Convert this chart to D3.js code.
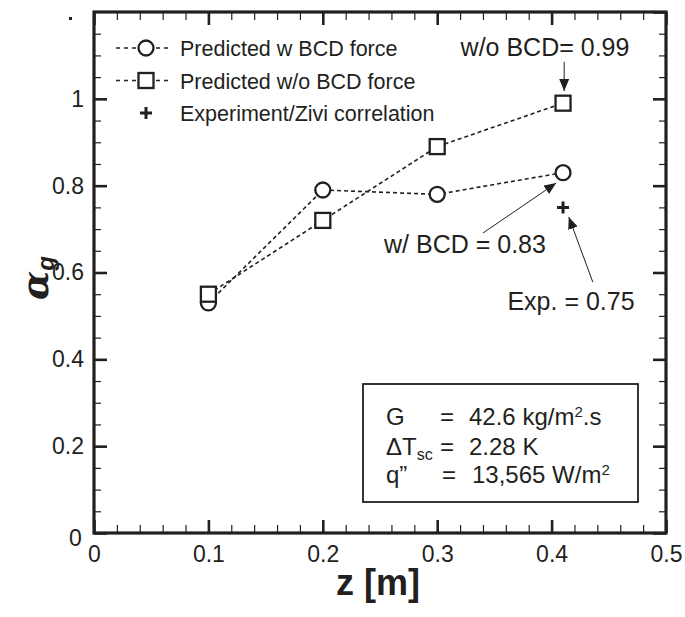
<!DOCTYPE html>
<html><head><meta charset="utf-8">
<script src="https://cdn.jsdelivr.net/npm/d3@7"></script>
<style>body{margin:0;background:#fff}svg{display:block}text{font-family:"Liberation Sans",Arial,sans-serif;fill:#231f20}</style>
</head><body><svg id="c" width="685" height="617"></svg>
<script>
// ---- data ----
const zPositions = [0.1, 0.2, 0.3, 0.41];
const withBCD = [0.53, 0.79, 0.78, 0.83];
const withoutBCD = [0.55, 0.72, 0.89, 0.99];
const expZ = [0.41];
const expAlpha = [0.75];
const xTicks = [0, 0.1, 0.2, 0.3, 0.4, 0.5];
const xTickLabels = ["0", "0.1", "0.2", "0.3", "0.4", "0.5"];
const yTicks = [0, 0.2, 0.4, 0.6, 0.8, 1];
const yTickLabels = ["0", "0.2", "0.4", "0.6", "0.8", "1"];
const legendLabels = ["Predicted w BCD force", "Predicted w/o BCD force", "Experiment/Zivi correlation"];

const ink = "#231f20";
const svg = d3.select("#c");
const L = 94, T = 12, R = 666, B = 533;
const x = d3.scaleLinear().domain([0, 0.5]).range([L, R]);
const y = d3.scaleLinear().domain([0, 1.2]).range([B, T]);

const xMinor = d3.range(0, 0.5001, 0.02).filter(v => Math.abs(v*10 - Math.round(v*10)) > 1e-6);
const yMinor = d3.range(0, 1.2001, 0.05).filter(v => Math.abs(v*5 - Math.round(v*5)) > 1e-6);
const yMajorAll = [0, 0.2, 0.4, 0.6, 0.8, 1, 1.2];

function styleAxis(g, w) {
  g.select(".domain").remove();
  g.selectAll(".tick line").attr("stroke", ink).attr("stroke-width", w);
}
// bottom
svg.append("g").attr("transform", `translate(0,${B})`)
  .call(d3.axisBottom(x).tickValues(xMinor).tickSize(-8).tickFormat(""))
  .call(g => styleAxis(g, 1.2));
const gxb = svg.append("g").attr("transform", `translate(0,${B})`)
  .call(d3.axisBottom(x).tickValues(xTicks).tickSize(-13).tickPadding(13).tickFormat((d, i) => xTickLabels[i]))
  .call(g => styleAxis(g, 2.6));
gxb.selectAll(".tick text").attr("font-size", 23).attr("fill", ink).attr("font-family", "Liberation Sans, Arial");
// top
svg.append("g").attr("transform", `translate(0,${T})`)
  .call(d3.axisTop(x).tickValues(xMinor).tickSize(-8).tickFormat(""))
  .call(g => styleAxis(g, 1.2));
svg.append("g").attr("transform", `translate(0,${T})`)
  .call(d3.axisTop(x).tickValues(xTicks).tickSize(-13).tickFormat(""))
  .call(g => styleAxis(g, 2.6));
// left
svg.append("g").attr("transform", `translate(${L},0)`)
  .call(d3.axisLeft(y).tickValues(yMinor).tickSize(-7).tickFormat(""))
  .call(g => styleAxis(g, 1.2));
const gyl = svg.append("g").attr("transform", `translate(${L},0)`)
  .call(d3.axisLeft(y).tickValues(yTicks).tickSize(-13).tickPadding(10).tickFormat((d, i) => yTickLabels[i]))
  .call(g => styleAxis(g, 2.6));
gyl.selectAll(".tick text").attr("font-size", 23).attr("fill", ink).attr("font-family", "Liberation Sans, Arial");
gyl.selectAll(".tick text").filter((d,i)=>i===0).attr("dy", "0.55em").attr("dx", "-0.1em");
// right
svg.append("g").attr("transform", `translate(${R},0)`)
  .call(d3.axisRight(y).tickValues(yMinor).tickSize(-7).tickFormat(""))
  .call(g => styleAxis(g, 1.2));
svg.append("g").attr("transform", `translate(${R},0)`)
  .call(d3.axisRight(y).tickValues(yMajorAll).tickSize(-13).tickFormat(""))
  .call(g => styleAxis(g, 2.6));
// frame
svg.append("rect").attr("x", L).attr("y", T).attr("width", R - L).attr("height", B - T)
  .attr("fill", "none").attr("stroke", ink).attr("stroke-width", 3.2);
// stray dot
svg.append("rect").attr("x", 69).attr("y", 17).attr("width", 3).attr("height", 3).attr("fill", ink);

// axis titles
svg.append("text").attr("x", 378).attr("y", 595).attr("text-anchor", "middle")
  .attr("font-size", 36).attr("font-weight", "bold").text("z [m]");
const yl = svg.append("text").attr("transform", "translate(48,278) rotate(-90)").attr("text-anchor", "middle")
  .attr("font-size", 38).attr("font-weight", "bold").attr("font-style", "italic");
yl.append("tspan").attr("font-family", "DejaVu Serif").text("α");
yl.append("tspan").attr("font-size", 24).attr("dy", 6).text("g");

// lines
const line = d3.line().x(d => x(d[0])).y(d => y(d[1]));
[withBCD, withoutBCD].forEach(s => {
  svg.append("path").datum(zPositions.map((z, i) => [z, s[i]])).attr("d", line)
    .attr("fill", "none").attr("stroke", ink).attr("stroke-width", 1.6).attr("stroke-dasharray", "4,3");
});
// markers
svg.selectAll(".circ").data(zPositions).enter().append("circle")
  .attr("cx", d => x(d)).attr("cy", (d, i) => y(withBCD[i])).attr("r", 7.5)
  .attr("fill", "#fff").attr("stroke", ink).attr("stroke-width", 2.3);
svg.selectAll(".sq").data(zPositions).enter().append("rect")
  .attr("x", d => x(d) - 7.5).attr("y", (d, i) => y(withoutBCD[i]) - 7.5).attr("width", 15).attr("height", 15)
  .attr("fill", "#fff").attr("stroke", ink).attr("stroke-width", 2.3);
function plus(g, cx, cy) {
  g.append("path").attr("d", `M${cx-6},${cy}H${cx+6}M${cx},${cy-6}V${cy+6}`)
    .attr("stroke", ink).attr("stroke-width", 3);
}
expZ.forEach((z, i) => plus(svg, x(z), y(expAlpha[i])));

// legend
const lg = svg.append("g");
legendLabels.forEach((t, i) => {
  const cy = 48 + i * 32.5;
  if (i < 2) {
    lg.append("line").attr("x1", 116).attr("x2", 168).attr("y1", cy).attr("y2", cy)
      .attr("stroke", ink).attr("stroke-width", 1.6).attr("stroke-dasharray", "4,4");
    if (i === 0) lg.append("circle").attr("cx", 146).attr("cy", cy).attr("r", 7.5).attr("fill", "#fff").attr("stroke", ink).attr("stroke-width", 2.3);
    else lg.append("rect").attr("x", 138.5).attr("y", cy - 7.5).attr("width", 15).attr("height", 15).attr("fill", "#fff").attr("stroke", ink).attr("stroke-width", 2.3);
  } else plus(lg, 146, cy);
  lg.append("text").attr("x", 180).attr("y", cy + 8).attr("font-size", 21.5).text(t);
});

// annotations
svg.append("defs").append("marker").attr("id", "ah").attr("viewBox", "0 0 12 10")
  .attr("refX", 12).attr("refY", 5).attr("markerWidth", 12).attr("markerHeight", 10)
  .attr("markerUnits", "userSpaceOnUse").attr("orient", "auto")
  .append("path").attr("d", "M0,0L12,5L0,10Z").attr("fill", ink);
const ann = [
  {t: "w/o BCD= 0.99", tx: 545, ty: 56, x1: 0.411, y1: 1.085, x2: 0.411, y2: 1.018},
  {t: "w/ BCD = 0.83", tx: 465, ty: 253, x1: 0.340, y1: 0.691, x2: 0.404, y2: 0.806},
  {t: "Exp. = 0.75", tx: 571, ty: 310, x1: 0.436, y1: 0.578, x2: 0.415, y2: 0.728}
];
ann.forEach(a => {
  svg.append("text").attr("x", a.tx).attr("y", a.ty).attr("text-anchor", "middle").attr("font-size", 25).text(a.t);
  svg.append("line").attr("x1", x(a.x1)).attr("y1", y(a.y1)).attr("x2", x(a.x2)).attr("y2", y(a.y2))
    .attr("stroke", ink).attr("stroke-width", 1).attr("marker-end", "url(#ah)");
});

// info box
svg.append("rect").attr("x", 363).attr("y", 384).attr("width", 275).attr("height", 118)
  .attr("fill", "#fff").attr("stroke", ink).attr("stroke-width", 1.8);
const fs = 24;
svg.append("text").attr("x", 386).attr("y", 425).attr("font-size", fs).text("G");
svg.append("text").attr("x", 440).attr("y", 425).attr("font-size", fs).text("=");
const t1 = svg.append("text").attr("x", 469).attr("y", 425).attr("font-size", fs).text("42.6 kg/m");
t1.append("tspan").attr("font-size", 15).attr("dy", -8).text("2");
t1.append("tspan").attr("dy", 8).text(".s");
const t2 = svg.append("text").attr("x", 386).attr("y", 455).attr("font-size", fs).text("ΔT");
t2.append("tspan").attr("font-size", 16).attr("dy", 5).text("sc");
svg.append("text").attr("x", 440).attr("y", 455).attr("font-size", fs).text("=");
svg.append("text").attr("x", 469).attr("y", 455).attr("font-size", fs).text("2.28 K");
svg.append("text").attr("x", 386).attr("y", 483).attr("font-size", fs).text("q”");
svg.append("text").attr("x", 442).attr("y", 483).attr("font-size", fs).text("=");
const t3 = svg.append("text").attr("x", 472).attr("y", 483).attr("font-size", fs).text("13,565 W/m");
t3.append("tspan").attr("font-size", 15).attr("dy", -8).text("2");
</script></body></html>
